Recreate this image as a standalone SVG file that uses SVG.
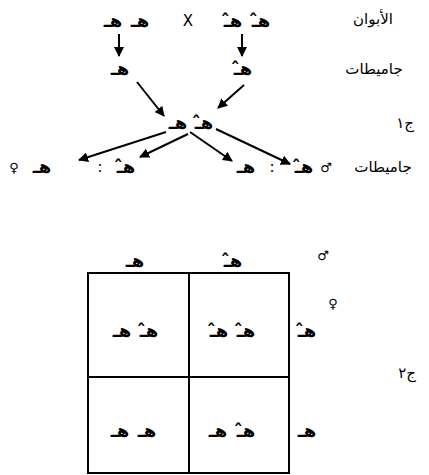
<svg xmlns="http://www.w3.org/2000/svg" width="429" height="475" viewBox="0 0 429 475">
<style>
.g{font-family:"DejaVu Sans",sans-serif;font-size:18px;fill:#000;text-anchor:middle;font-weight:bold}
.l{font-family:"DejaVu Sans",sans-serif;font-size:15px;fill:#000;text-anchor:middle}
.s{font-family:"DejaVu Sans",sans-serif;font-size:13px;fill:#000;text-anchor:middle;font-weight:bold}
.c{stroke:#000;stroke-width:2;fill:none}
.box{stroke:#000;stroke-width:2;fill:none}
</style>
<defs>
<marker id="a" viewBox="0 0 10 10" refX="9" refY="5" markerWidth="5" markerHeight="5" orient="auto">
<path d="M0,0 L10,5 L0,10 z" fill="#000"/>
</marker>
</defs>
<g id="labels">
<text class="l" x="373" y="24">الأبوان</text>
<text class="l" x="374" y="74">جاميطات</text>
<text class="l" x="405" y="128">ج١</text>
<text class="l" x="383" y="172">جاميطات</text>
</g>
<g id="parents">
<text class="g" x="113" y="27">هـ</text>
<text class="g" x="140" y="27">هـ</text>
<text class="l" x="188" y="26">X</text>
<text class="g" x="233" y="27">ه̂ـ</text>
<text class="g" x="261" y="27">ه̂ـ</text>
</g>
<g id="gametes1">
<text class="g" x="120" y="75">هـ</text>
<text class="g" x="243" y="75">ه̂ـ</text>
</g>
<g id="f1">
<text class="g" x="178" y="129">هـ</text>
<text class="g" x="204" y="129">ه̂ـ</text>
</g>
<g id="gametes2">
<text class="s" x="14" y="172">♀</text>
<text class="g" x="42" y="173">هـ</text>
<text class="l" x="100" y="172">:</text>
<text class="g" x="126" y="173">ه̂ـ</text>
<text class="g" x="246" y="173">هـ</text>
<text class="l" x="272" y="172">:</text>
<text class="g" x="304" y="173">ه̂ـ</text>
<text class="s" x="326" y="172">♂</text>
</g>
<g id="connectors">
<line class="c" x1="119" y1="34" x2="119" y2="56" marker-end="url(#a)"/>
<line class="c" x1="242" y1="34" x2="242" y2="56" marker-end="url(#a)"/>
<line class="c" x1="137" y1="82" x2="164" y2="116" marker-end="url(#a)"/>
<line class="c" x1="244" y1="85" x2="218" y2="108" marker-end="url(#a)"/>
<line class="c" x1="166" y1="132" x2="79" y2="160" marker-end="url(#a)"/>
<line class="c" x1="188" y1="134" x2="140" y2="157" marker-end="url(#a)"/>
<line class="c" x1="190" y1="132" x2="232" y2="161" marker-end="url(#a)"/>
<line class="c" x1="216" y1="129" x2="290" y2="164" marker-end="url(#a)"/>
</g>
<g id="punnett">
<rect class="box" x="88" y="273" width="201" height="200"/>
<line class="box" x1="189" y1="273" x2="189" y2="473"/>
<line class="box" x1="88" y1="377" x2="289" y2="377"/>
<text class="g" x="135" y="267">هـ</text>
<text class="g" x="233" y="267">ه̂ـ</text>
<text class="s" x="323" y="260">♂</text>
<text class="g" x="307" y="337">ه̂ـ</text>
<text class="s" x="333" y="308">♀</text>
<text class="g" x="307" y="437">هـ</text>
<text class="l" x="407" y="378">ج٢</text>
<text class="g" x="122" y="337">هـ</text>
<text class="g" x="149" y="337">ه̂ـ</text>
<text class="g" x="219" y="337">ه̂ـ</text>
<text class="g" x="246" y="337">ه̂ـ</text>
<text class="g" x="120" y="437">هـ</text>
<text class="g" x="147" y="437">هـ</text>
<text class="g" x="218" y="437">هـ</text>
<text class="g" x="246" y="437">ه̂ـ</text>
</g>
</svg>
